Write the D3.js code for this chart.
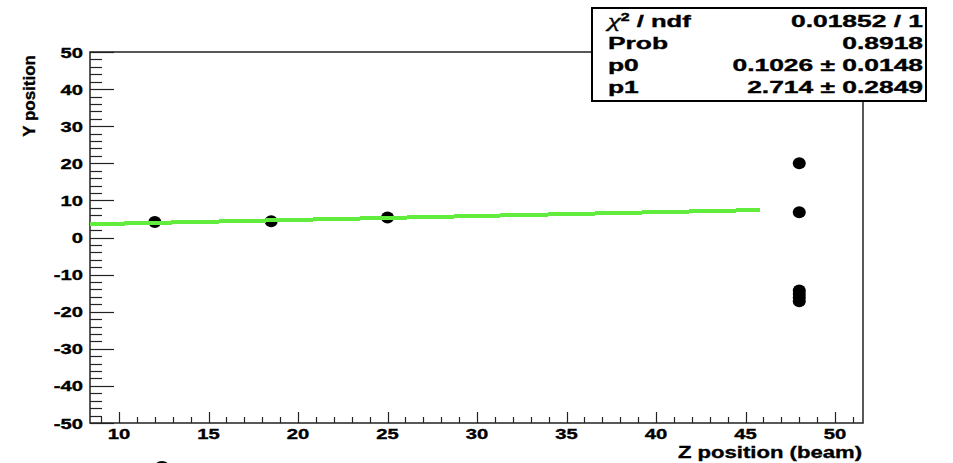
<!DOCTYPE html>
<html>
<head>
<meta charset="utf-8">
<script src="https://cdn.jsdelivr.net/npm/d3@7"></script>
<style>
body { margin: 0; background: #fff; }
text { font-family: "Liberation Sans", Arial, sans-serif; font-weight: bold; fill: #000; stroke: #000; stroke-width: 0.35px; }
</style>
</head>
<body>
<svg width="953" height="463"></svg>
<script>
// data
var zPoints = [12, 18.5, 25, 48, 48, 48, 48, 48, 48];
var yPoints = [4.2, 4.4, 5.4, 20.0, 6.8, -14.3, -15.2, -16.2, -17.2];
var fitRange = [8.38, 45.8];
var p0 = 0.1026, p1 = 2.714;
var xTicks = [10, 15, 20, 25, 30, 35, 40, 45, 50];
var yTicks = [-50, -40, -30, -20, -10, 0, 10, 20, 30, 40, 50];
var statNames = ["chi", "Prob", "p0", "p1"];
var statValues = ["0.01852 / 1", "0.8918", "0.1026 \u00b1 0.0148", "2.714 \u00b1 0.2849"];

var svg = d3.select("svg");
var frame = {left: 90, right: 863, top: 52, bottom: 423};

var x = d3.scaleLinear().domain([8.38, 51.56]).range([frame.left, frame.right]);
var y = d3.scaleLinear().domain([-50, 50]).range([frame.bottom, frame.top]);

function stretchText(g, px, py, str, size, sx, anchor) {
  return g.append("text")
    .attr("transform", "translate(" + px + "," + py + ") scale(" + sx + ",1)")
    .attr("text-anchor", anchor)
    .style("font-size", size + "px")
    .text(str);
}

// frame
svg.append("rect")
  .attr("x", frame.left).attr("y", frame.top)
  .attr("width", frame.right - frame.left).attr("height", frame.bottom - frame.top)
  .attr("fill", "none").attr("stroke", "#222").attr("stroke-width", 1.5);

// y axis ticks (inside)
var yMinor = d3.range(-50, 50.1, 2);
svg.append("g").selectAll("line").data(yMinor).enter().append("line")
  .attr("x1", frame.left)
  .attr("x2", function(d) { return d % 10 === 0 ? frame.left + 24 : frame.left + 12; })
  .attr("y1", function(d) { return Math.round(y(d)) + 0.5; })
  .attr("y2", function(d) { return Math.round(y(d)) + 0.5; })
  .attr("stroke", "#222").attr("stroke-width", 1.2);

// x axis ticks (inside)
var xMinor = d3.range(9, 51.1, 1);
svg.append("g").selectAll("line").data(xMinor).enter().append("line")
  .attr("x1", function(d) { return Math.round(x(d)) + 0.5; })
  .attr("x2", function(d) { return Math.round(x(d)) + 0.5; })
  .attr("y1", frame.bottom)
  .attr("y2", function(d) { return d % 5 === 0 ? frame.bottom - 11 : frame.bottom - 6; })
  .attr("stroke", "#222").attr("stroke-width", 1.2);

// tick labels
var labels = svg.append("g");
yTicks.forEach(function(t) {
  stretchText(labels, 83, y(t) + 5.5, String(t), 15, 1.35, "end");
});
xTicks.forEach(function(t) {
  stretchText(labels, x(t), 439, String(t), 15, 1.35, "middle");
});

// axis titles
stretchText(svg, 862, 458, "Z position (beam)", 17, 1.3, "end");
svg.append("text")
  .attr("transform", "translate(35,55) rotate(-90)")
  .attr("text-anchor", "end")
  .style("font-size", "17px")
  .text("Y position");

// points
svg.append("g").selectAll("ellipse").data(zPoints).enter().append("ellipse")
  .attr("cx", function(d) { return x(d); })
  .attr("cy", function(d, i) { return y(yPoints[i]); })
  .attr("rx", 6.5).attr("ry", 6)
  .attr("fill", "#000");

// fit line, drawn over the markers
var fit = d3.line()
  .x(function(d) { return x(d); })
  .y(function(d) { return y(p0 * d + p1); });
svg.append("path")
  .datum(fitRange)
  .attr("d", fit)
  .attr("fill", "none")
  .attr("stroke", "#62ec3e")
  .attr("stroke-width", 4)
  .attr("shape-rendering", "crispEdges");

// stats box
svg.append("rect")
  .attr("x", 592).attr("y", 8)
  .attr("width", 334).attr("height", 93)
  .attr("fill", "#fff").attr("stroke", "#000").attr("stroke-width", 2);

var rowY = [27, 49, 71, 93];
statNames.forEach(function(n, i) {
  if (n === "chi") {
    var t = svg.append("text")
      .attr("transform", "translate(608," + rowY[i] + ") scale(1.6,1)")
      .style("font-size", "16px");
    t.append("tspan").style("font-family", "Liberation Serif").style("font-style", "italic")
      .style("font-weight", "normal").style("font-size", "18px").text("\u03c7");
    t.append("tspan").attr("dy", -6).style("font-size", "10px").text("2");
    t.append("tspan").attr("dy", 6).text(" / ndf");
  } else {
    stretchText(svg, 608, rowY[i], n, 16, 1.65, "start");
  }
  stretchText(svg, 923, rowY[i], statValues[i], 16, 1.65, "end");
});

// stray marker edge at the bottom of the picture
svg.append("circle")
  .attr("cx", 162).attr("cy", 470).attr("r", 8)
  .attr("fill", "none").attr("stroke", "#000").attr("stroke-width", 2);
</script>
</body>
</html>
